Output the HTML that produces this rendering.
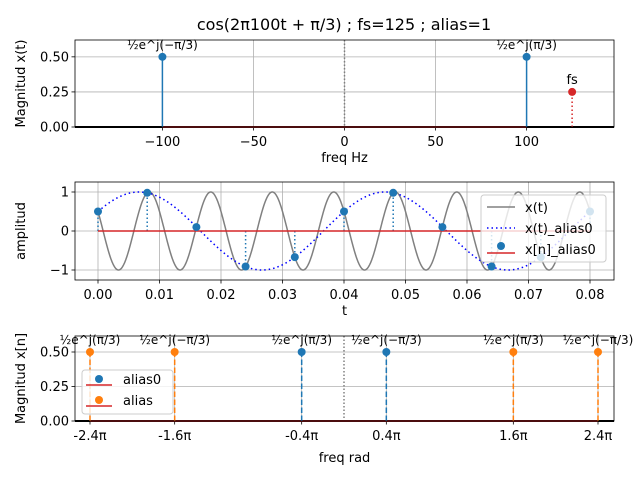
<!DOCTYPE html>
<html><head><meta charset="utf-8"><style>
body{margin:0;background:#fff}
svg text{font-family:"DejaVu Sans","Liberation Sans",sans-serif;fill:#000}
</style></head><body>
<svg id="fig" width="640" height="480" xmlns="http://www.w3.org/2000/svg">
<rect width="640" height="480" fill="#fff"/>
<text x="344" y="30" font-size="16" text-anchor="middle">cos(2π100t + π/3)  ; fs=125  ; alias=1</text>
</svg>
<script>
// ---- data ----
const topFreqs=[-100,100];
const topMags=[0.5,0.5];
const topLabels=["½e^j(−π/3)","½e^j(π/3)"];
const fsFreq=[125];
const fsMag=[0.25];
const topXTicks=[-100,-50,0,50,100];
const topXTickLabels=["−100","−50","0","50","100"];
const magYTicks=[0,0.25,0.5];
const magYTickLabels=["0.00","0.25","0.50"];
const sigFreq=[100];
const sigPhase=[Math.PI/3];
const aliasFreq=[-25];
const sampleTimes=[0,0.008,0.016,0.024,0.032,0.04,0.048,0.056,0.064,0.072,0.08];
const sampleVals=[0.5,0.98,0.1,-0.91,-0.67,0.5,0.98,0.1,-0.91,-0.67,0.5];
const midXTicks=[0,0.01,0.02,0.03,0.04,0.05,0.06,0.07,0.08];
const midXTickLabels=["0.00","0.01","0.02","0.03","0.04","0.05","0.06","0.07","0.08"];
const midYTicks=[-1,0,1];
const midYTickLabels=["−1","0","1"];
const alias0Freqs=[-0.4,0.4];
const alias0Mags=[0.5,0.5];
const alias0Labels=["½e^j(π/3)","½e^j(−π/3)"];
const aliasFreqs=[-2.4,-1.6,1.6,2.4];
const aliasMags=[0.5,0.5,0.5,0.5];
const aliasLabels=["½e^j(π/3)","½e^j(−π/3)","½e^j(π/3)","½e^j(−π/3)"];
const botXTicks=[-2.4,-1.6,-0.4,0.4,1.6,2.4];
const botXTickLabels=["-2.4π","-1.6π","-0.4π","0.4π","1.6π","2.4π"];

const svg=document.getElementById('fig');
const NS="http://www.w3.org/2000/svg";
function mk(tag,attrs,parent){const e=document.createElementNS(NS,tag);for(const k in attrs)e.setAttribute(k,attrs[k]);(parent||svg).appendChild(e);return e;}
function txt(s,x,y,size,anchor,parent){const t=mk('text',{x:x,y:y,'font-size':size,'text-anchor':anchor||'middle'},parent);t.textContent=s;return t;}
function lin(d0,d1,r0,r1){return v=>r0+(v-d0)/(d1-d0)*(r1-r0);}

function axesFrame(name,L,T,R,B,xs,ys,xt,xtl,yt,ytl,xlabel,ylabel,xlabelY){
  const g=mk('g',{});
  
  
  xt.forEach(v=>mk('line',{x1:xs(v),x2:xs(v),y1:T,y2:B,stroke:'#b0b0b0','stroke-width':0.8},g));
  yt.forEach(v=>mk('line',{x1:L,x2:R,y1:ys(v),y2:ys(v),stroke:'#b0b0b0','stroke-width':0.8},g));
  xt.forEach((v,i)=>{mk('line',{x1:xs(v),x2:xs(v),y1:B,y2:B+3.5,stroke:'#000','stroke-width':0.8},g);const t=txt(xtl[i],xs(v),B+19,13,'middle',g);});
  yt.forEach((v,i)=>{mk('line',{x1:L-3.5,x2:L,y1:ys(v),y2:ys(v),stroke:'#000','stroke-width':0.8},g);const t=txt(ytl[i],L-6,ys(v)+4.5,13,'end',g);});
  const xl=txt(xlabel,(L+R)/2,xlabelY,13,'middle',g);
  
  
  const cy=(T+B)/2;
  const yl=txt(ylabel,0,0,13,'middle',g);
  yl.setAttribute('transform','translate(25,'+cy+') rotate(-90)');
  
  
  return g;
}
function frame(L,T,R,B){mk('rect',{x:L,y:T,width:R-L,height:B-T,fill:'none',stroke:'#000','stroke-width':0.8});}

// ---- top axes ----
(function(){
  const L=75,T=40,R=614,B=127;
  const xs=lin(-148,148,L,R), ys=lin(0,0.62,B,T);
  axesFrame('spectrum-hz-axes',L,T,R,B,xs,ys,topXTicks,topXTickLabels,magYTicks,magYTickLabels,'freq Hz','Magnitud x(t)',162);
  mk('line',{x1:xs(0),x2:xs(0),y1:T,y2:B,stroke:'#808080','stroke-width':1.5,'stroke-dasharray':'1.5,2'});
  mk('line',{x1:xs(-148),x2:xs(148),y1:ys(0),y2:ys(0),stroke:'#000','stroke-width':2});
  mk('line',{x1:xs(topFreqs[0]),x2:xs(topFreqs[topFreqs.length-1]),y1:ys(0),y2:ys(0),stroke:'#d62728','stroke-width':1.5});
  topFreqs.forEach((f,i)=>{
    const s=mk('line',{x1:xs(f),x2:xs(f),y1:ys(0),y2:ys(topMags[i]),stroke:'#1f77b4','stroke-width':1.5});
    
    
    const c=mk('circle',{cx:xs(f),cy:ys(topMags[i]),r:4,fill:'#1f77b4'});
    
    
    const t=txt(topLabels[i],xs(f),ys(topMags[i])-8,12,'middle');
    
    
  });
  fsFreq.forEach((f,i)=>{
    const s=mk('line',{x1:xs(f),x2:xs(f),y1:ys(0),y2:ys(fsMag[i]),stroke:'#d62728','stroke-width':1.5,'stroke-dasharray':'1.5,2.5'});
    
    
    const c=mk('circle',{cx:xs(f),cy:ys(fsMag[i]),r:4,fill:'#d62728'});
    
    
    const t=txt('fs',xs(f),ys(fsMag[i])-8,13,'middle');
    
    
  });
  frame(L,T,R,B);
})();

// ---- middle axes ----
(function(){
  const L=75,T=182,R=614,B=280;
  const xs=lin(0,0.08,98,590), ys=lin(-1,1,270,192);
  axesFrame('time-axes',L,T,R,B,xs,ys,midXTicks,midXTickLabels,midYTicks,midYTickLabels,'t','amplitud',315);
  let d='',d2='';
  for(let k=0;k<=800;k++){const t=0.08*k/800;
    d+=(k?'L':'M')+xs(t).toFixed(2)+','+ys(Math.cos(2*Math.PI*sigFreq[0]*t+sigPhase[0])).toFixed(2);
    d2+=(k?'L':'M')+xs(t).toFixed(2)+','+ys(Math.cos(2*Math.PI*aliasFreq[0]*t+sigPhase[0])).toFixed(2);}
  const p=mk('path',{d:d,fill:'none',stroke:'#808080','stroke-width':1.5});
  
  
  const p2=mk('path',{d:d2,fill:'none',stroke:'#0000ff','stroke-width':1.5,'stroke-dasharray':'1.5,3'});
  
  
  sampleTimes.forEach((t,i)=>{
    const s=mk('line',{x1:xs(t),x2:xs(t),y1:ys(0),y2:ys(sampleVals[i]),stroke:'#1f77b4','stroke-width':1.5,'stroke-dasharray':'1.5,2.5'});
    
    
  });
  const bl=mk('line',{x1:xs(sampleTimes[0]),x2:xs(sampleTimes[sampleTimes.length-1]),y1:ys(0),y2:ys(0),stroke:'#d62728','stroke-width':1.5});
  
  
  sampleTimes.forEach((t,i)=>{
    const c=mk('circle',{cx:xs(t),cy:ys(sampleVals[i]),r:4,fill:'#1f77b4'});
    
    
  });
  frame(L,T,R,B);
  const lg=mk('g',{});
  
  
  mk('rect',{x:481,y:195,width:125,height:67,rx:3,fill:'#fff','fill-opacity':0.8,stroke:'#ccc'},lg);
  mk('line',{x1:487,x2:515,y1:207,y2:207,stroke:'#808080','stroke-width':1.5},lg);
  txt('x(t)',525,212,13,'start',lg);
  mk('line',{x1:487,x2:515,y1:228,y2:228,stroke:'#0000ff','stroke-width':1.5,'stroke-dasharray':'1.5,3'},lg);
  txt('x(t)_alias0',525,233,13,'start',lg);
  mk('line',{x1:487,x2:515,y1:253,y2:253,stroke:'#d62728','stroke-width':1.5},lg);
  mk('circle',{cx:501,cy:246,r:4,fill:'#1f77b4'},lg);
  txt('x[n]_alias0',525,254,13,'start',lg);
})();

// ---- bottom axes ----
(function(){
  const L=75,T=336,R=614,B=421;
  const xs=lin(-2.4,2.4,90,598), ys=lin(0,0.5,B,352);
  axesFrame('spectrum-rad-axes',L,T,R,B,xs,ys,botXTicks,botXTickLabels,magYTicks,magYTickLabels,'freq rad','Magnitud x[n]',462);
  mk('line',{x1:344,x2:344,y1:T,y2:B,stroke:'#808080','stroke-width':1.5,'stroke-dasharray':'1.5,2'});
  mk('line',{x1:L,x2:R,y1:B,y2:B,stroke:'#000','stroke-width':2});
  mk('line',{x1:xs(aliasFreqs[0]),x2:xs(aliasFreqs[aliasFreqs.length-1]),y1:B,y2:B,stroke:'#d62728','stroke-width':1.5});
  function stems(fr,mg,lb,col,nm){
    fr.forEach((f,i)=>{
      const s=mk('line',{x1:xs(f),x2:xs(f),y1:ys(0),y2:ys(mg[i]),stroke:col,'stroke-width':1.5,'stroke-dasharray':'5.5,2.5'});
      
      
      const c=mk('circle',{cx:xs(f),cy:ys(mg[i]),r:4,fill:col});
      
      
      const t=txt(lb[i],xs(f),ys(mg[i])-8,12,'middle');
      
      
    });
  }
  stems(alias0Freqs,alias0Mags,alias0Labels,'#1f77b4','alias0');
  stems(aliasFreqs,aliasMags,aliasLabels,'#ff7f0e','alias');
  frame(L,T,R,B);
  const lg=mk('g',{});
  
  
  mk('rect',{x:82,y:370,width:91,height:44,rx:3,fill:'#fff','fill-opacity':0.8,stroke:'#ccc'},lg);
  mk('line',{x1:86,x2:112,y1:385,y2:385,stroke:'#d62728','stroke-width':1.5},lg);
  mk('circle',{cx:99,cy:379,r:4,fill:'#1f77b4'},lg);
  txt('alias0',123,384,13,'start',lg);
  mk('line',{x1:86,x2:112,y1:406,y2:406,stroke:'#d62728','stroke-width':1.5},lg);
  mk('circle',{cx:99,cy:400,r:4,fill:'#ff7f0e'},lg);
  txt('alias',123,405,13,'start',lg);
})();
</script>
</body></html>
